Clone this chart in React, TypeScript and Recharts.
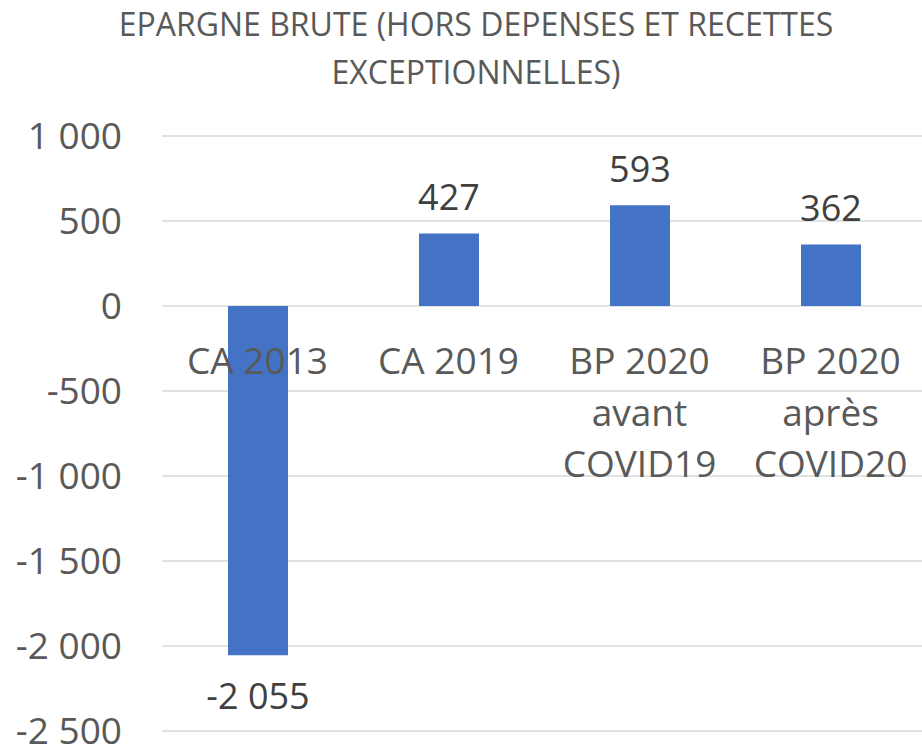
import { BarChart, Bar, XAxis, YAxis, CartesianGrid, LabelList } from "recharts";

const titleLines = ["EPARGNE BRUTE (HORS DEPENSES ET RECETTES", "EXCEPTIONNELLES)"];
const categories = ["CA 2013", "CA 2019", "BP 2020 avant COVID19", "BP 2020 après COVID20"];
const categoryLines = [["CA 2013"], ["CA 2019"], ["BP 2020", "avant", "COVID19"], ["BP 2020", "après", "COVID20"]];
const values = [-2055, 427, 593, 362];
const yTicks = [-2500, -2000, -1500, -1000, -500, 0, 500, 1000];

const data = categories.map((name, i) => ({ name, value: values[i] }));

const FONT = "'Open Sans', sans-serif";
const CHART_W = 930;
const CHART_H = 746;
const X_AXIS_H = 15;
const MARGIN = { top: 136, right: 4, bottom: 0, left: 0 };
const Y_MIN = -2500;
const Y_MAX = 1000;
const PLOT_H = CHART_H - MARGIN.top - MARGIN.bottom - X_AXIS_H;
const ZERO_Y = MARGIN.top + (Y_MAX / (Y_MAX - Y_MIN)) * PLOT_H;

// thousands with a plain space, like the original
const fmt = (v: number) => String(v).replace(/\B(?=(\d{3})+(?!\d))/g, " ");

function CategoryTick(props: any) {
  const { x, payload, index } = props;
  const i0 = payload?.index ?? index;
  const lines = categoryLines[i0] || [String(payload?.value ?? "")];
  return (
    <g>
      {lines.map((ln: string, i: number) => (
        <text
          key={i}
          x={x}
          y={ZERO_Y + 68 + i * 51.5}
          textAnchor="middle"
          fill="#595959"
          fontSize={37}
          fontFamily={FONT}
        >
          {ln}
        </text>
      ))}
    </g>
  );
}

function ValueLabel(props: any) {
  const { x, y, width, height, value } = props;
  const top = Math.min(y, y + height);
  const bottom = Math.max(y, y + height);
  const cx = x + width / 2;
  const ty = value >= 0 ? top - 23 : bottom + 54;
  return (
    <text x={cx} y={ty} textAnchor="middle" fill="#404040" fontSize={36} fontFamily={FONT}>
      {fmt(value)}
    </text>
  );
}

export default function App() {
  return (
    <div
      style={{
        position: "fixed",
        left: 0,
        top: 0,
        width: 922,
        height: 746,
        overflow: "hidden",
        background: "#fff",
        fontFamily: FONT,
      }}
    >
      <div
        style={{
          position: "absolute",
          left: 15,
          top: 0,
          width: 922,
          textAlign: "center",
          fontSize: 32,
          lineHeight: "48px",
          color: "#595959",
          whiteSpace: "nowrap",
        }}
      >
        {titleLines.map((t, i) => (
          <div key={i}>{t}</div>
        ))}
      </div>
      <BarChart width={CHART_W} height={CHART_H} data={data} margin={MARGIN}>
        <CartesianGrid vertical={false} stroke="#D9D9D9" strokeWidth={1.5} />
        <YAxis
          type="number"
          domain={[Y_MIN, Y_MAX]}
          ticks={yTicks}
          interval={0}
          width={162}
          axisLine={false}
          tickLine={false}
          tickSize={0}
          tickMargin={40}
          tickFormatter={fmt}
          tick={{ fill: "#595959", fontSize: 37, fontFamily: FONT }}
        />
        <Bar dataKey="value" fill="#4472C4" barSize={60} isAnimationActive={false}>
          <LabelList dataKey="value" content={<ValueLabel />} />
        </Bar>
        <XAxis
          dataKey="name"
          height={X_AXIS_H}
          axisLine={false}
          tickLine={false}
          interval={0}
          tick={CategoryTick}
        />
      </BarChart>
    </div>
  );
}
